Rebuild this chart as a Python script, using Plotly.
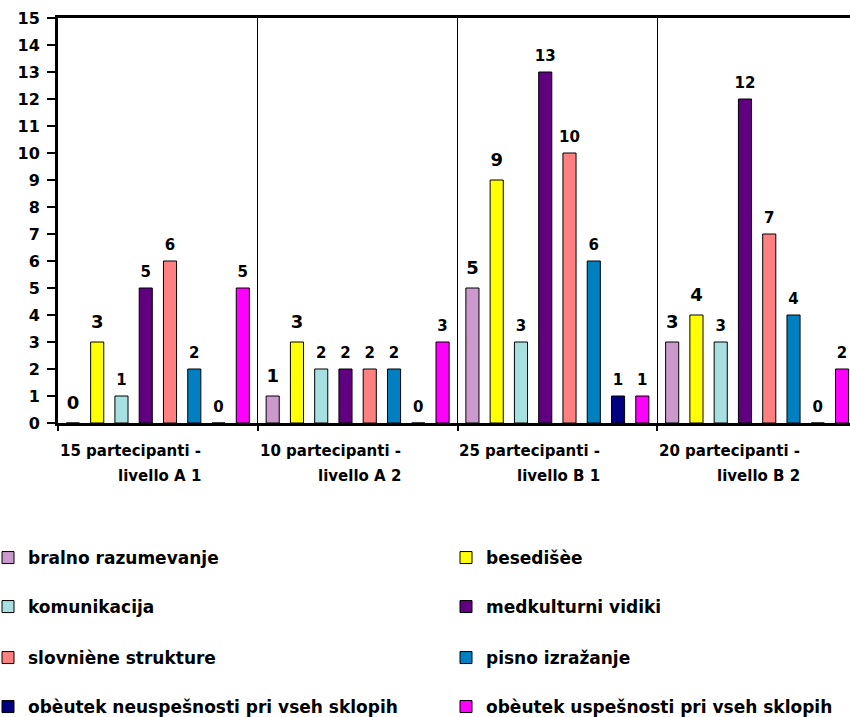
import plotly.graph_objects as go

# Group labels (two text lines per group)
group_line1 = ["15 partecipanti -", "10 partecipanti -", "25 partecipanti -", "20 partecipanti -"]
group_line2 = ["livello A 1", "livello A 2", "livello B 1", "livello B 2"]
categories = [a + " " + b for a, b in zip(group_line1, group_line2)]

series_names = [
    "bralno razumevanje",
    "besedišèe",
    "komunikacija",
    "medkulturni vidiki",
    "slovniène strukture",
    "pisno izražanje",
    "obèutek neuspešnosti pri vseh sklopih",
    "obèutek uspešnosti pri vseh sklopih",
]

bralno_razumevanje = [0, 1, 5, 3]
besedisce = [3, 3, 9, 4]
komunikacija = [1, 2, 3, 3]
medkulturni_vidiki = [5, 2, 13, 12]
slovnicne_strukture = [6, 2, 10, 7]
pisno_izrazanje = [2, 2, 6, 4]
neuspesnost = [0, 0, 1, 0]
uspesnost = [5, 3, 1, 2]

series_values = [
    bralno_razumevanje, besedisce, komunikacija, medkulturni_vidiki,
    slovnicne_strukture, pisno_izrazanje, neuspesnost, uspesnost,
]

colors = ["#CC99CC", "#FFFF00", "#A6E0E0", "#600080",
          "#FF8080", "#0080C0", "#000080", "#FF00FF"]

y_ticks = list(range(0, 16))

FONT = "DejaVu Sans"
BAR_GAP = 0.028

fig = go.Figure()

# bars
for i, (name, vals, col) in enumerate(zip(series_names, series_values, colors)):
    legend_id = "legend" if i == 0 else f"legend{i + 1}"
    fig.add_trace(go.Bar(
        x=categories, y=vals, name=name,
        marker=dict(color=col, line=dict(color="black", width=1)),
        offsetgroup=str(i),
        legend=legend_id,
        hoverinfo="x+y+name",
    ))

# value labels floating above each bar
for i, vals in enumerate(series_values):
    big = i < 2
    fsize = 18 if big else 15
    msize = 14 if big else 10
    fig.add_trace(go.Scatter(
        x=categories, y=vals,
        mode="markers+text",
        text=[str(v) for v in vals],
        textposition="top center",
        textfont=dict(family=FONT, size=fsize, color="black", weight="bold"),
        marker=dict(size=msize, opacity=0),
        offsetgroup=str(i),
        showlegend=False,
        hoverinfo="skip",
        cliponaxis=False,
    ))

# plot area geometry (pixels)
W, H = 850, 717
ML, MT, MB = 58, 18, 294
plot_h = H - MT - MB


def py(pix):
    """pixel row -> paper y"""
    return (H - MB - pix) / plot_h


def px(pix):
    """pixel column -> paper x"""
    return (pix - ML) / (W - ML)


# group labels below the axis
annotations = []
for cat, l1, l2 in zip(categories, group_line1, group_line2):
    for txt, row in ((l1, 451), (l2, 476)):
        annotations.append(dict(
            x=cat, xref="x", y=py(row), yref="paper",
            text=txt, showarrow=False, xanchor="right", yanchor="middle",
            xshift=45, align="right",
            font=dict(family=FONT, size=15, color="black", weight="bold"),
        ))

# one legend per entry laid out in a 2-column grid
legend_rows = [558, 607, 658, 707]
legend_cols = [-12, 446]
legends = {}
for i in range(len(series_names)):
    key = "legend" if i == 0 else f"legend{i + 1}"
    legends[key] = dict(
        x=px(legend_cols[i % 2]), y=py(legend_rows[i // 2]),
        xanchor="left", yanchor="middle",
        xref="paper", yref="paper",
        bgcolor="rgba(0,0,0,0)", borderwidth=0,
        font=dict(family=FONT, size=17, color="black", weight="bold"),
    )

fig.update_layout(
    width=W, height=H,
    margin=dict(l=ML, r=0, t=MT, b=MB, pad=0, autoexpand=False),
    paper_bgcolor="white", plot_bgcolor="white",
    barmode="group", bargap=BAR_GAP, bargroupgap=0.46,
    scattermode="group", scattergap=BAR_GAP,
    annotations=annotations,
    xaxis=dict(
        type="category", range=[-0.5, 3.465],
        tickson="boundaries", ticks="outside", ticklen=5, tickwidth=2, tickcolor="black",
        showgrid=True, gridcolor="black", gridwidth=1,
        showline=True, linewidth=3, linecolor="black", mirror=True,
        showticklabels=False, zeroline=False,
    ),
    yaxis=dict(
        range=[0, 15], tickvals=y_ticks, ticktext=[str(t) for t in y_ticks],
        ticks="outside", ticklen=8, tickwidth=2, tickcolor="black",
        ticklabelstandoff=4,
        tickfont=dict(family=FONT, size=16, color="black", weight="bold"),
        showline=True, linewidth=3, linecolor="black",
        showgrid=False, zeroline=False,
    ),
    yaxis2=dict(
        overlaying="y", side="left", range=[0, 15], tickvals=y_ticks,
        ticks="inside", ticklen=5, tickwidth=2, tickcolor="black",
        showticklabels=False, showline=False, showgrid=False, zeroline=False,
    ),
    **legends,
)

fig.write_html("out.html")
